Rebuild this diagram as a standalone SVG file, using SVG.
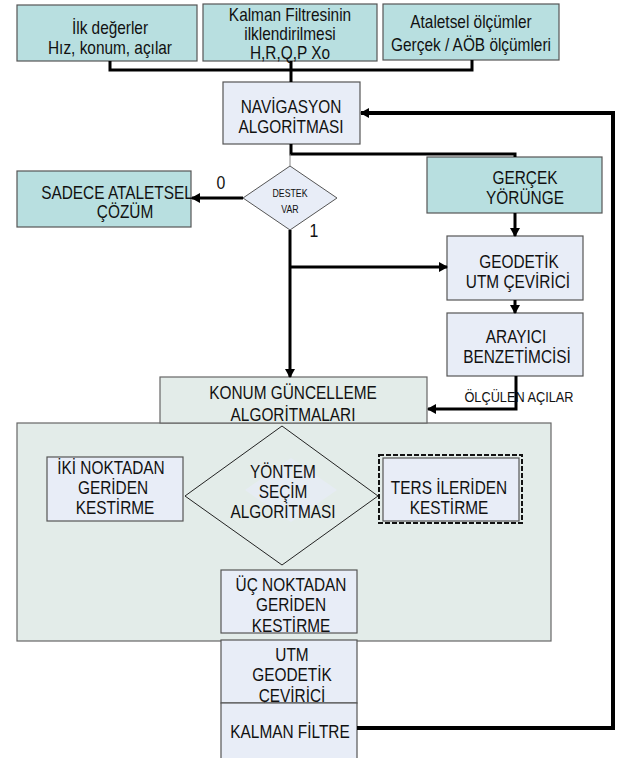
<svg xmlns="http://www.w3.org/2000/svg" width="617" height="758" viewBox="0 0 617 758">
<style>
text{font-family:"Liberation Sans",Arial,sans-serif;font-size:17.5px;fill:#111;text-anchor:middle}
.teal{fill:#b8dfe0;stroke:#555;stroke-width:1.2}
.blue{fill:#e8edf7;stroke:#555;stroke-width:1.2}
.grey{fill:#e3ece9;stroke:#666;stroke-width:1.2}
.dia{fill:#e8edf7;stroke:#555;stroke-width:1}
.c{fill:none;stroke:#000;stroke-width:3}
.ct{fill:none;stroke:#000;stroke-width:4}
.sm{font-size:10px}
.lb{font-size:14.5px}
.n{font-size:18px}
</style>
<defs>
<marker id="ah" markerUnits="userSpaceOnUse" markerWidth="9" markerHeight="10" refX="8" refY="5" orient="auto">
<path d="M0,0 L9,5 L0,10 z" fill="#000"/>
</marker>
</defs>
<g id="container"><rect class="grey" x="17" y="423" width="534" height="218"/></g>
<g id="ilk"><rect class="teal" x="17" y="5" width="180" height="56"/>
<text transform="translate(110 34) scale(.88 1)">İlk değerler</text><text transform="translate(110 54) scale(.88 1)">Hız, konum, açılar</text></g>
<g id="kalman-init"><rect class="teal" x="203" y="4" width="174" height="57"/>
<text transform="translate(290 21) scale(.88 1)">Kalman Filtresinin</text><text transform="translate(290 40) scale(.88 1)">ilklendirilmesi</text><text transform="translate(290 59) scale(.88 1)">H,R,Q,P Xo</text></g>
<g id="ataletsel"><rect class="teal" x="383" y="4" width="176" height="56"/>
<text transform="translate(471 28) scale(.88 1)">Ataletsel ölçümler</text><text transform="translate(471 51) scale(.88 1)">Gerçek / AÖB ölçümleri</text></g>
<g id="nav"><rect class="blue" x="223" y="82" width="137" height="62"/>
<text transform="translate(291 113) scale(.88 1)">NAVİGASYON</text><text transform="translate(291 133) scale(.88 1)">ALGORİTMASI</text></g>
<g id="destek"><polygon class="dia" points="290,166 337,198 290,230 243,198"/>
<text class="sm" transform="translate(290 197) scale(.88 1)">DESTEK</text><text class="sm" transform="translate(290 213) scale(.88 1)">VAR</text></g>
<g id="sadece"><rect class="teal" x="17" y="171" width="174" height="56"/>
<text transform="translate(117 199) scale(.88 1)">SADECE ATALETSEL</text><text transform="translate(125 218) scale(.88 1)">ÇÖZÜM</text></g>
<g id="gercek"><rect class="teal" x="427" y="157" width="175" height="56"/>
<text transform="translate(525 184) scale(.88 1)">GERÇEK</text><text transform="translate(525 204) scale(.88 1)">YÖRÜNGE</text></g>
<g id="geodetik"><rect class="blue" x="447" y="236" width="136" height="64"/>
<text transform="translate(519 268) scale(.88 1)">GEODETİK</text><text transform="translate(518 288) scale(.88 1)">UTM ÇEVİRİCİ</text></g>
<g id="arayici"><rect class="blue" x="447" y="313" width="136" height="63"/>
<text transform="translate(516 343) scale(.88 1)">ARAYICI</text><text transform="translate(517 363) scale(.88 1)">BENZETİMCİSİ</text></g>
<g id="konum"><rect class="grey" x="160" y="377" width="267" height="46"/>
<text transform="translate(293 399) scale(.88 1)">KONUM GÜNCELLEME</text><text transform="translate(293 421) scale(.88 1)">ALGORİTMALARI</text></g>
<g id="yontem"><polygon points="282,426 378,496 282,565 185,496" fill="none" stroke="#222" stroke-width="1"/>
<polygon points="291,458 337,490 291,522 245,490" fill="#e6ecf3" stroke="none"/>
<text transform="translate(283 478) scale(.88 1)">YÖNTEM</text><text transform="translate(283 498) scale(.88 1)">SEÇİM</text><text transform="translate(283 518) scale(.88 1)">ALGORİTMASI</text></g>
<g id="iki"><rect class="blue" x="47" y="457" width="136" height="64"/>
<text transform="translate(111 474) scale(.88 1)">İKİ NOKTADAN</text><text transform="translate(113 494) scale(.88 1)">GERİDEN</text><text transform="translate(115 514) scale(.88 1)">KESTİRME</text></g>
<g id="ters"><rect x="379" y="455" width="143" height="68" fill="none" stroke="#111" stroke-width="2" stroke-dasharray="5,2"/>
<rect class="blue" x="383" y="458" width="136" height="63"/>
<text transform="translate(449 494) scale(.88 1)">TERS İLERİDEN</text><text transform="translate(449 514) scale(.88 1)">KESTİRME</text></g>
<g id="uc"><rect class="blue" x="221" y="570" width="136" height="63"/>
<text transform="translate(291 591) scale(.88 1)">ÜÇ NOKTADAN</text><text transform="translate(291 611) scale(.88 1)">GERİDEN</text><text transform="translate(291 632) scale(.88 1)">KESTİRME</text></g>
<g id="utm"><rect class="blue" x="221" y="640" width="136" height="63"/>
<text transform="translate(292 661) scale(.88 1)">UTM</text><text transform="translate(292 681) scale(.88 1)">GEODETİK</text><text transform="translate(292 702) scale(.88 1)">ÇEVİRİCİ</text></g>
<g id="kalman"><rect class="blue" x="221" y="703" width="136" height="60"/>
<text transform="translate(290 738) scale(.88 1)">KALMAN FİLTRE</text></g>
<g id="connectors">
<polyline class="c" points="110,61 110,70 472,70 472,60"/>
<line class="c" x1="291" y1="61" x2="291" y2="82"/>
<polyline class="c" points="291,144 291,154 515,154 515,157"/>
<line x1="290" y1="154" x2="290" y2="166" stroke="#888" stroke-width="1"/>
<line class="c" x1="243" y1="198" x2="192" y2="198" marker-end="url(#ah)"/>
<line class="c" x1="290" y1="230" x2="290" y2="377" marker-end="url(#ah)"/>
<line class="c" x1="290" y1="267" x2="447" y2="267" marker-end="url(#ah)"/>
<line class="c" x1="515" y1="213" x2="515" y2="236" marker-end="url(#ah)"/>
<line class="c" x1="515" y1="300" x2="515" y2="313" marker-end="url(#ah)"/>
<polyline class="c" points="516,376 516,409 428,409" marker-end="url(#ah)"/>
<polyline class="ct" points="357,728 613,728 613,113 361,113" marker-end="url(#ah)"/>
<text class="n" transform="translate(221 189) scale(.88 1)">0</text>
<text class="n" transform="translate(314 237) scale(.88 1)">1</text>
<text class="lb" transform="translate(519 402) scale(.88 1)">ÖLÇÜLEN AÇILAR</text>
</g>
</svg>
